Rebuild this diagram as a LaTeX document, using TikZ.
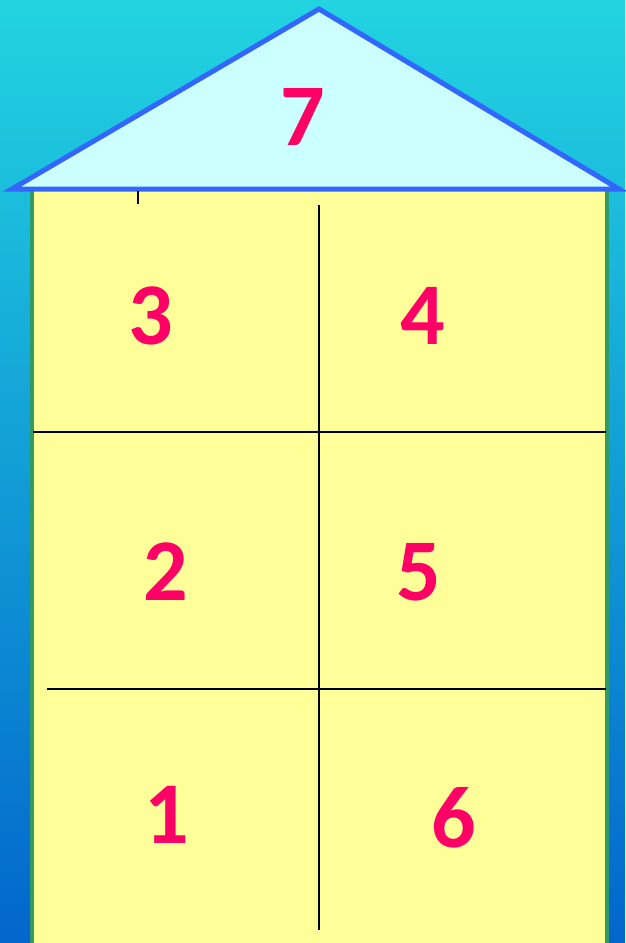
\documentclass[tikz,border=0pt]{standalone}
\usepackage{fontspec}
\setmainfont{Carlito}
\usepackage{tikz}
\definecolor{skytop}{RGB}{34,212,224}
\definecolor{skybot}{RGB}{2,102,204}
\definecolor{roofline}{RGB}{51,102,255}
\definecolor{rooffill}{RGB}{204,255,255}
\definecolor{wallfill}{RGB}{255,255,153}
\definecolor{wallline}{RGB}{51,153,102}
\definecolor{numred}{RGB}{255,0,102}
\tikzset{
  num/.style={font=\fontsize{88}{88}\selectfont\bfseries, text=numred, inner sep=0pt},
  grid/.style={draw=black, line width=2pt},
}
\begin{document}
\begin{tikzpicture}[x=1pt,y=-1pt]
  % sky
  \shade[top color=skytop, bottom color=skybot] (0,0) rectangle (625,943);
  \useasboundingbox (0,0) rectangle (625,943);
  % walls
  \fill[wallfill] (32,189) rectangle (607,943);
  \draw[wallline, line width=4pt] (32,189) -- (32,943);
  \draw[wallline, line width=4pt] (607,189) -- (607,943);
  % roof
  \draw[roofline, fill=rooffill, line width=5pt, line join=miter]
    (12,189) -- (319,9) -- (619,189) -- cycle;
  % rooms
  \draw[grid] (319,205) -- (319,930);
  \draw[grid] (33,432) -- (606,432);
  \draw[grid] (47,689) -- (606,689);
  \draw[grid] (138,191) -- (138,204);
  % numbers
  \node[num] (n7) at (303,117) {7};
  \node[num] (n3) at (151,316) {3};
  \node[num] (n4) at (423,316) {4};
  \node[num] (n2) at (166,572) {2};
  \node[num] (n5) at (419,572) {5};
  \node[num] (n1) at (167,815) {1};
  \node[num] (n6) at (454,818) {6};
\end{tikzpicture}
\end{document}
